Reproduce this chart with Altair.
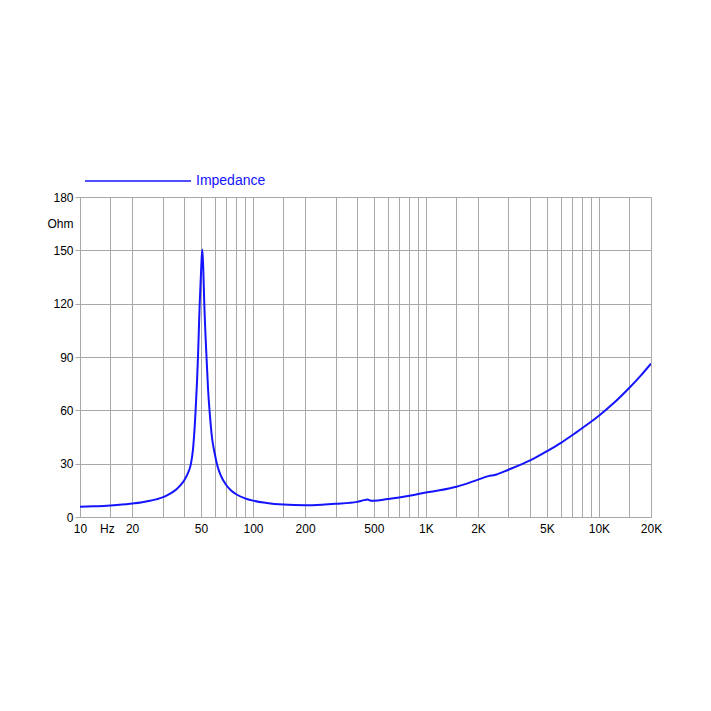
import altair as alt
import pandas as pd

# Frequency (Hz) and impedance (Ohm)
freq = [10, 12, 15, 17.5, 20, 22.5, 25, 27.5, 30, 33, 36, 38, 40, 42, 43.8, 45,
        46.6, 48.1, 49.2, 50.2, 50.9, 51.5, 52.3, 54, 55, 56.4, 57.9, 60, 62.2,
        65, 70, 75, 80, 90, 100, 120, 150, 200, 250, 300, 400, 440, 460,
        480, 500, 600, 700, 850, 1000, 1200, 1500, 2000, 2300, 2500, 3000,
        4000, 5000, 6000, 7000, 8000, 9000, 10000, 12000, 15000, 17500, 20000]
ohm = [5.7, 6.0, 6.5, 7.0, 7.6, 8.2, 9.0, 9.9, 11.0, 13.0, 15.5, 17.8, 20.5,
       24.5, 30, 38, 60, 90, 120, 140, 150.5, 142, 120, 88, 72, 57, 45, 36, 29,
       23.6, 18, 14.8, 12.8, 10.5, 9.2, 7.9, 7.0, 6.6, 6.9, 7.4, 8.5, 9.5, 9.8,
       9.2, 9.1, 10.1, 11.0, 12.4, 13.8, 15.0, 17.0, 21.0, 23.0, 23.6, 26.6,
       31.8, 37.0, 41.6, 46.0, 50.0, 53.6, 57.0, 63.5, 72.7, 79.7, 86.3]

series_name = "Impedance"

# Axis ticks / grid positions
x_grid = [10, 15, 20, 30, 40, 50, 60, 70, 80, 90,
          100, 150, 200, 300, 400, 500, 600, 700, 800, 900,
          1000, 1500, 2000, 3000, 4000, 5000, 6000, 7000, 8000, 9000,
          10000, 15000, 20000]
x_labels = {10: "10", 14.3: "Hz", 20: "20", 50: "50", 100: "100", 200: "200",
            500: "500", 1000: "1K", 2000: "2K", 5000: "5K", 10000: "10K",
            20000: "20K"}
y_ticks = [0, 30, 60, 90, 120, 150, 180]
y_unit_pos = 165
y_unit = "Ohm"

df = pd.DataFrame({"f": freq, "z": ohm, "s": series_name})

x_values = sorted(set(x_grid) | set(x_labels.keys()))
label_expr = " : ".join(
    [f"datum.value == {k} ? '{v}'" for k, v in x_labels.items()]) + " : ''"
label_keys = " || ".join([f"datum.value == {k}" for k in x_labels if k not in x_grid])

y_values = y_ticks + [y_unit_pos]

FONT = "Liberation Sans"
GRID = "#a8a8a8"
BLUE = "#1414ff"

line = alt.Chart(df).mark_line(strokeWidth=2, clip=True, interpolate="monotone").encode(
    x=alt.X("f:Q",
            scale=alt.Scale(type="log", domain=[10, 20000], nice=False),
            axis=alt.Axis(values=x_values, labelExpr=label_expr, title=None,
                          grid=True, gridColor=GRID,
                          gridOpacity={"condition": {"test": label_keys, "value": 0}, "value": 1},
                          ticks=False, labelPadding=6, domainColor=GRID,
                          labelFont=FONT, labelFontSize=12, labelColor="#000",
                          labelFlush=False, labelOverlap=False)),
    y=alt.Y("z:Q",
            scale=alt.Scale(domain=[0, 180], nice=False),
            axis=alt.Axis(values=y_values,
                          labelExpr=f"datum.value == {y_unit_pos} ? '{y_unit}' : datum.label",
                          title=None, grid=True, gridColor=GRID,
                          gridOpacity={"condition": {"test": f"datum.value == {y_unit_pos}", "value": 0}, "value": 1},
                          tickOpacity={"condition": {"test": f"datum.value == {y_unit_pos}", "value": 0}, "value": 1},
                          tickSize=5, tickColor=GRID, labelPadding=2, domainColor=GRID,
                          labelFont=FONT, labelFontSize=12, labelColor="#000",
                          labelOverlap=False)),
    color=alt.Color("s:N",
                    scale=alt.Scale(range=[BLUE]),
                    legend=alt.Legend(title=None, orient="none", legendX=4, legendY=-70,
                                      symbolType="stroke", symbolSize=11236,
                                      symbolStrokeWidth=1.5, labelColor=BLUE,
                                      labelFont=FONT, labelFontSize=14, labelOffset=4,
                                      padding=0)),
)

chart = line.properties(
    width=571, height=320,
    autosize=alt.AutoSizeParams(type="none"),
    padding={"left": 72, "top": 189, "right": 40, "bottom": 150},
).configure_view(stroke=None).configure(background="white")

chart.save("out.html", embed_options={"renderer": "svg", "actions": False})
